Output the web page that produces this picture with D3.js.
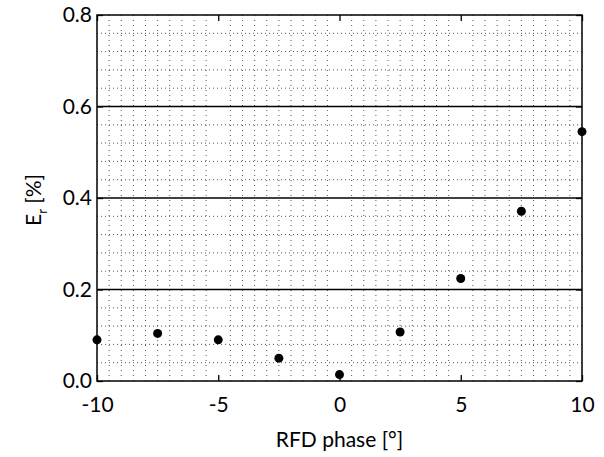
<!DOCTYPE html>
<html>
<head>
<meta charset="utf-8">
<script src="https://cdn.jsdelivr.net/npm/d3@7"></script>
<style>
  body { margin: 0; background: #fff; }
  text { font-family: Lato, "Open Sans", sans-serif; fill: #000; }
</style>
</head>
<body>
<svg id="chart" width="604" height="457"></svg>
<script>
// data
const phases = [-10, -7.5, -5, -2.5, 0, 2.5, 5, 7.5, 10];
const errors = [0.09, 0.104, 0.09, 0.05, 0.014, 0.107, 0.224, 0.371, 0.545];
const xTicks = [-10, -5, 0, 5, 10];
const yTicks = [0, 0.2, 0.4, 0.6, 0.8];

const margin = { top: 15, right: 22, bottom: 76, left: 97 };
const width = 604 - margin.left - margin.right;
const height = 457 - margin.top - margin.bottom;
const fontSize = "21px";

const svg = d3.select("#chart")
  .append("g")
  .attr("transform", `translate(${margin.left}, ${margin.top})`);

const x = d3.scaleLinear().domain([-10, 10]).range([0, width]);
const y = d3.scaleLinear().domain([0, 0.8]).range([height, 0]);

// minor dotted grid
const minorX = d3.range(-9.5, 10, 0.5).filter(v => Math.abs(v % 5) > 1e-9);
const minorY = d3.range(0.04, 0.8, 0.04).filter(v => Math.abs(Math.round(v / 0.2) * 0.2 - v) > 1e-6);

svg.selectAll(".minor-x")
  .data(minorX)
  .enter()
  .append("line")
  .attr("x1", d => x(d)).attr("x2", d => x(d))
  .attr("y1", 0).attr("y2", height)
  .style("stroke", "#555")
  .style("stroke-width", 1)
  .style("stroke-dasharray", "1,4");

svg.selectAll(".minor-y")
  .data(minorY)
  .enter()
  .append("line")
  .attr("x1", 0).attr("x2", width)
  .attr("y1", d => y(d)).attr("y2", d => y(d))
  .style("stroke", "#555")
  .style("stroke-width", 1)
  .style("stroke-dasharray", "1,3");

// major horizontal grid lines
svg.selectAll(".major-y")
  .data(yTicks.slice(1, -1))
  .enter()
  .append("line")
  .attr("x1", 0).attr("x2", width)
  .attr("y1", d => y(d)).attr("y2", d => y(d))
  .style("stroke", "#000")
  .style("stroke-width", 1.3);

// axes (inward ticks), plain hyphen for negatives like the original
const xAxisBottom = svg.append("g")
  .attr("transform", `translate(0, ${height})`)
  .call(d3.axisBottom(x).tickValues(xTicks).tickFormat(d => String(d)).tickSizeInner(-6).tickSizeOuter(0).tickPadding(16));
const xAxisTop = svg.append("g")
  .call(d3.axisTop(x).tickValues(xTicks).tickFormat("").tickSizeInner(-6).tickSizeOuter(0));
const yAxisLeft = svg.append("g")
  .call(d3.axisLeft(y).tickValues(yTicks).tickFormat(d3.format(".1f")).tickSizeInner(-6).tickSizeOuter(0).tickPadding(5));
const yAxisRight = svg.append("g")
  .attr("transform", `translate(${width}, 0)`)
  .call(d3.axisRight(y).tickValues(yTicks).tickFormat("").tickSizeInner(-6).tickSizeOuter(0));

[xAxisBottom, xAxisTop, yAxisLeft, yAxisRight].forEach(g => {
  g.select(".domain").remove();
  g.selectAll("line").style("stroke", "#000").style("stroke-width", 1.3);
  g.selectAll("text").style("font-size", fontSize).style("font-family", "Lato, 'Open Sans', sans-serif");
});

// frame
svg.append("rect")
  .attr("x", 0).attr("y", 0)
  .attr("width", width).attr("height", height)
  .style("fill", "none")
  .style("stroke", "#000")
  .style("stroke-width", 1.5);

// points
svg.selectAll(".dot")
  .data(phases)
  .enter()
  .append("circle")
  .attr("class", "dot")
  .attr("cx", d => x(d))
  .attr("cy", (d, i) => y(errors[i]))
  .attr("r", 4.5)
  .style("fill", "#000");

// axis titles
svg.append("text")
  .attr("x", width / 2)
  .attr("y", height + 66)
  .attr("text-anchor", "middle")
  .style("font-size", fontSize)
  .text("RFD phase [°]");

const yl = svg.append("text")
  .attr("transform", `translate(-56, ${height / 2 + 2}) rotate(-90)`)
  .attr("text-anchor", "middle")
  .style("font-size", fontSize);
yl.append("tspan").text("E");
yl.append("tspan").attr("dy", 6).style("font-size", "13px").text("r");
yl.append("tspan").attr("dy", -6).text(" [%]");
</script>
</body>
</html>
